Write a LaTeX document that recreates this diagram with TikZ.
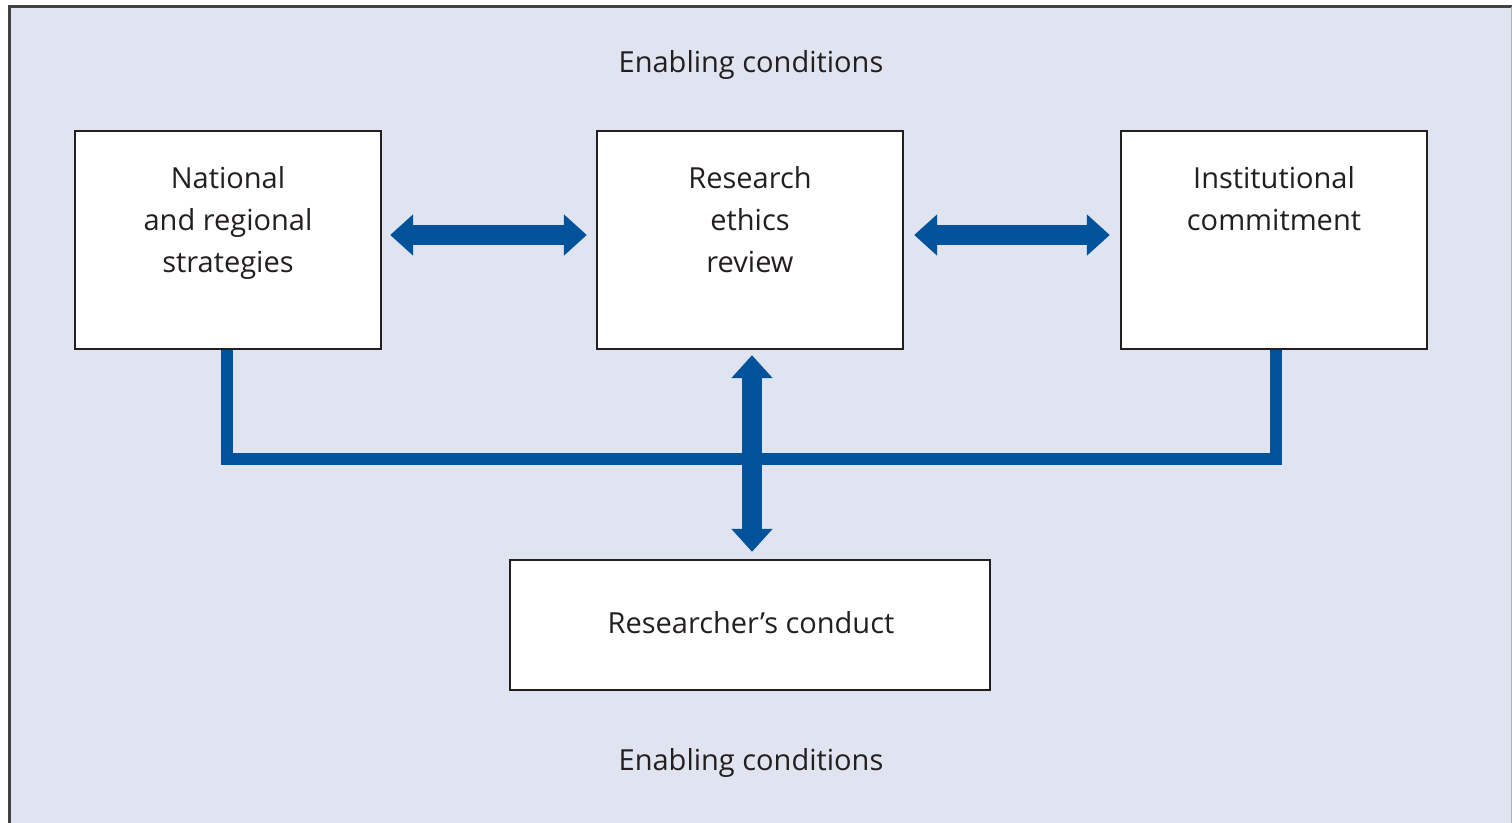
\documentclass[tikz,border=0pt]{standalone}
\usepackage{fontspec}
\setmainfont{Open Sans}
\usetikzlibrary{arrows.meta,calc}
\definecolor{bg}{RGB}{224,227,240}
\definecolor{lblue}{RGB}{0,82,155}
\definecolor{ink}{RGB}{35,31,32}
\begin{document}
\begin{tikzpicture}[x=0.5pt,y=-0.5pt,
  box/.style={draw=ink,line width=1.2pt,fill=white,inner sep=0pt,minimum width=153pt,minimum height=109pt},
  txt/.style={font=\fontsize{14.5}{21}\selectfont,text=ink,align=center,inner sep=0pt},
  dbl/.style={draw=lblue,line width=10pt,{Triangle[width=20pt,length=11.5pt]}-{Triangle[width=20pt,length=11.5pt]}},
  bus/.style={draw=lblue,line width=6pt,line join=miter}]
\useasboundingbox (0,0) rectangle (1512,823);
\fill[bg] (9,7) rectangle (1512,823);
\draw[ink!85,line width=1.5pt] (9,823) -- (9,7) -- (1512,7);
\draw[gray!60,line width=0.5pt] (1511,7) -- (1511,823);
% boxes
\node[box] (L) at (228,240) {};
\node[box] (M) at (750,240) {};
\node[box] (R) at (1274,240) {};
\node[box,minimum width=240pt,minimum height=65pt] (B) at (750,625) {};
% texts
\node[txt,anchor=base] (top) at (751,73) {Enabling conditions};
\node[txt,anchor=base] (bot) at (751,771) {Enabling conditions};
\node[txt,anchor=north] (Lt) at ($(L.north)+(0,36)$) {National\\and regional\\strategies};
\node[txt,anchor=north] (Mt) at ($(M.north)+(0,36)$) {Research\\ethics\\review};
\node[txt,anchor=north] (Rt) at ($(R.north)+(0,36)$) {Institutional\\commitment};
\node[txt,anchor=base] (Bt) at (751,634) {Researcher’s conduct};
% bus
\coordinate (j) at (752,459);
\coordinate (ls) at ($(L.south)+(-1,0)$);
\coordinate (rs) at ($(R.south)+(2,0)$);
\draw[bus] (ls) -- (ls |- j) -| (rs);
% arrows
\draw[dbl] ($(L.east)+(8,-5)$) -- ($(M.west)+(-9,-5)$);
\draw[dbl] ($(M.east)+(10,-5)$) -- ($(R.west)+(-10,-5)$);
\draw[dbl] ($(M.south)+(2,5)$) -- ($(B.north)+(2,-7)$);
\end{tikzpicture}
\end{document}
